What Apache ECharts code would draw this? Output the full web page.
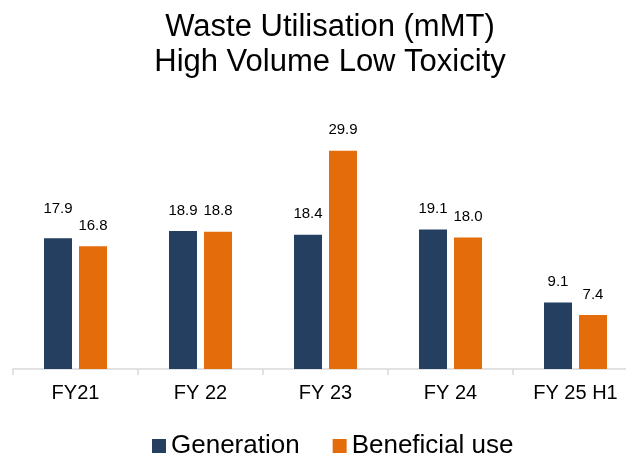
<!DOCTYPE html>
<html>
<head>
<meta charset="utf-8">
<script src="https://cdn.jsdelivr.net/npm/echarts@6/dist/echarts.min.js"></script>
<style>
html,body{margin:0;padding:0;background:#fff;overflow:hidden;}
#chart{width:638px;height:455px;}
</style>
</head>
<body>
<div id="chart"></div>
<script>
const categories = ['FY21', 'FY 22', 'FY 23', 'FY 24', 'FY 25 H1'];
const generation = [17.9, 18.9, 18.4, 19.1, 9.1];
const beneficialUse = [16.8, 18.8, 29.9, 18.0, 7.4];
const seriesNames = ['Generation', 'Beneficial use'];

const FONT = '"Liberation Sans", Arial, sans-serif';
const chart = echarts.init(document.getElementById('chart'));

function labelled(values, raised) {
  return values.map((v, i) => raised[i] ? { value: v, label: { distance: raised[i] } } : v);
}

chart.setOption({
  animation: false,
  title: {
    text: 'Waste Utilisation (mMT)\nHigh Volume Low Toxicity',
    left: 325,
    textAlign: 'center',
    top: 5,
    textStyle: { fontFamily: FONT, fontSize: 31, fontWeight: 'normal', color: '#000', lineHeight: 35 }
  },
  legend: {
    data: seriesNames,
    left: 147,
    top: 428,
    itemWidth: 14,
    itemHeight: 14,
    itemGap: 33,
    icon: 'rect',
    textStyle: { fontFamily: FONT, fontSize: 26, color: '#000' }
  },
  grid: { left: 13, right: 0, top: 77, bottom: 86, containLabel: false },
  xAxis: {
    type: 'category',
    data: categories,
    boundaryGap: true,
    axisLine: { lineStyle: { color: '#D9D9D9', width: 1.5 } },
    axisTick: { show: true, length: 6, interval: 0, lineStyle: { color: '#D9D9D9', width: 1.5 } },
    axisLabel: { fontFamily: FONT, fontSize: 20, color: '#000', margin: 14, interval: 0 }
  },
  yAxis: {
    type: 'value', min: 0, max: 40, show: false,
    splitLine: { show: false }
  },
  series: [
    {
      name: seriesNames[0], type: 'bar',
      data: labelled(generation, [22, 0, 0, 0, 0]),
      barWidth: 28, barGap: '25%',
      itemStyle: { color: '#243F60' },
      label: { show: true, position: 'top', distance: 13, fontFamily: FONT, fontSize: 15, color: '#000', formatter: p => p.value.toFixed(1) }
    },
    {
      name: seriesNames[1], type: 'bar',
      data: beneficialUse,
      barWidth: 28, barGap: '25%',
      itemStyle: { color: '#E46C0A' },
      label: { show: true, position: 'top', distance: 13, fontFamily: FONT, fontSize: 15, color: '#000', formatter: p => p.value.toFixed(1) }
    }
  ]
});
</script>
</body>
</html>
